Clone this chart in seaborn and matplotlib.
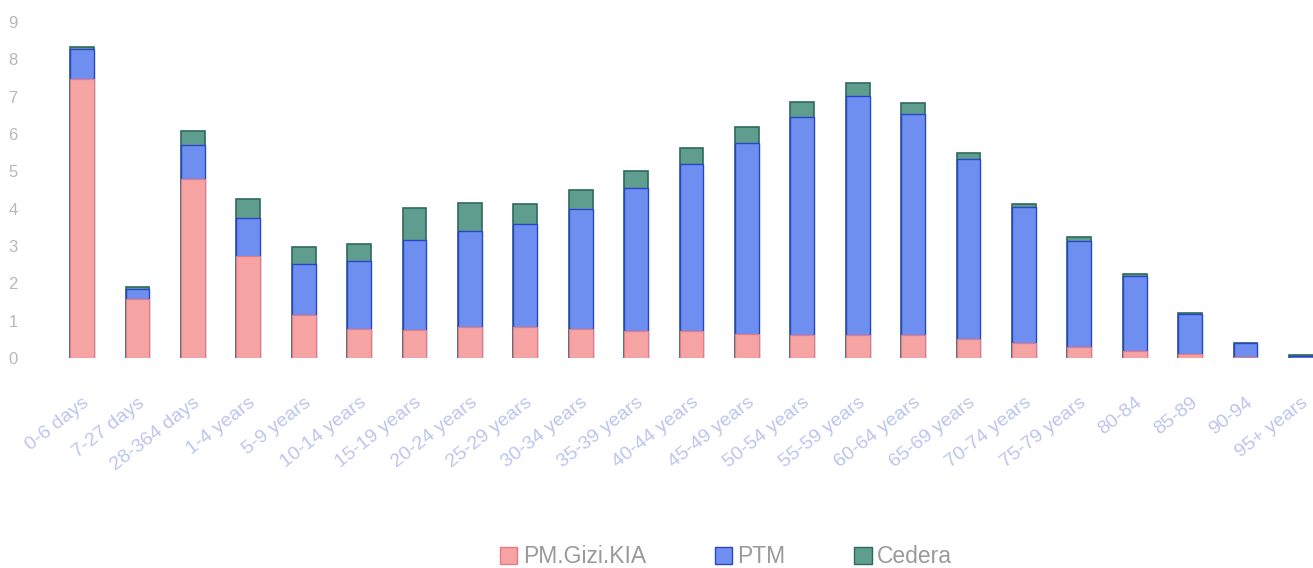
import numpy as np
import pandas as pd
import matplotlib
matplotlib.use("Agg")
import matplotlib.pyplot as plt
import seaborn as sns
from matplotlib.patches import Patch

categories = ["0-6 days", "7-27 days", "28-364 days", "1-4 years", "5-9 years",
              "10-14 years", "15-19 years", "20-24 years", "25-29 years", "30-34 years",
              "35-39 years", "40-44 years", "45-49 years", "50-54 years", "55-59 years",
              "60-64 years", "65-69 years", "70-74 years", "75-79 years", "80-84",
              "85-89", "90-94", "95+ years"]
pm_gizi_kia = [7.47, 1.57, 4.80, 2.72, 1.15, 0.77, 0.75, 0.83, 0.83, 0.77, 0.72, 0.72,
               0.64, 0.61, 0.61, 0.61, 0.50, 0.40, 0.30, 0.20, 0.10, 0.02, 0.01]
ptm = [0.80, 0.27, 0.90, 1.04, 1.36, 1.84, 2.40, 2.56, 2.77, 3.23, 3.84, 4.48,
       5.12, 5.84, 6.40, 5.92, 4.83, 3.65, 2.83, 2.00, 1.07, 0.37, 0.05]
cedera = [0.05, 0.05, 0.37, 0.50, 0.45, 0.45, 0.88, 0.77, 0.53, 0.50, 0.45, 0.43,
          0.43, 0.40, 0.35, 0.30, 0.16, 0.08, 0.10, 0.05, 0.03, 0.02, 0.01]
y_ticks = [0, 1, 2, 3, 4, 5, 6, 7, 8, 9]
series_names = ["PM.Gizi.KIA", "PTM", "Cedera"]

df = pd.DataFrame({"cat": categories, "pm": pm_gizi_kia, "ptm": ptm, "ced": cedera})
df["lvl2"] = df["pm"] + df["ptm"]
df["lvl3"] = df["lvl2"] + df["ced"]

pink, pink_e = "#f5a3a3", "#e77a82"
blue, blue_e = "#6f8ff0", "#2844c8"
green, green_e = "#5f9e8e", "#2d6a5c"

sns.set_style("white")
plt.rcParams["font.family"] = ["Liberation Sans", "DejaVu Sans"]
fig = plt.figure(figsize=(13.13, 5.68), dpi=100)
ax = fig.add_axes([40/1313, 210/568, 1273/1313, 336/568])

w = 0.43
sns.barplot(data=df, x="cat", y="lvl3", order=categories, color=green, saturation=1,
            width=w, edgecolor=green_e, linewidth=1.2, ax=ax)
sns.barplot(data=df, x="cat", y="lvl2", order=categories, color=blue, saturation=1,
            width=w, edgecolor=blue_e, linewidth=1.0, ax=ax)
sns.barplot(data=df, x="cat", y="pm", order=categories, color=pink, saturation=1,
            width=w, edgecolor=pink_e, linewidth=0.8, ax=ax)

ax.set_xlim(-0.76, 22.22)
ax.set_ylim(0, 9)
ax.set_yticks(y_ticks)
ax.set_yticklabels([str(t) for t in y_ticks], color="#b8b8b8", fontsize=12)
ax.tick_params(axis="y", length=0, pad=16)
ax.tick_params(axis="x", length=0, pad=26)
ax.set_xticks(range(len(categories)))
ax.set_xticklabels(categories, rotation=38, ha="right", rotation_mode="anchor",
                   color="#bcc5ee", fontsize=14)
ax.set_xlabel("")
ax.set_ylabel("")
for s in ax.spines.values():
    s.set_visible(False)

handles = [Patch(facecolor=pink, edgecolor=pink_e),
           Patch(facecolor=blue, edgecolor=blue_e),
           Patch(facecolor=green, edgecolor=green_e)]
fig.legend(handles, series_names, loc="center", bbox_to_anchor=(0.553, 0.02),
           ncol=3, frameon=False, fontsize=16.5, handlelength=0.75, handleheight=0.75,
           handletextpad=0.25, columnspacing=3.0, labelcolor="#9a9a9a")

fig.savefig("out.png", dpi=100, facecolor="white")
